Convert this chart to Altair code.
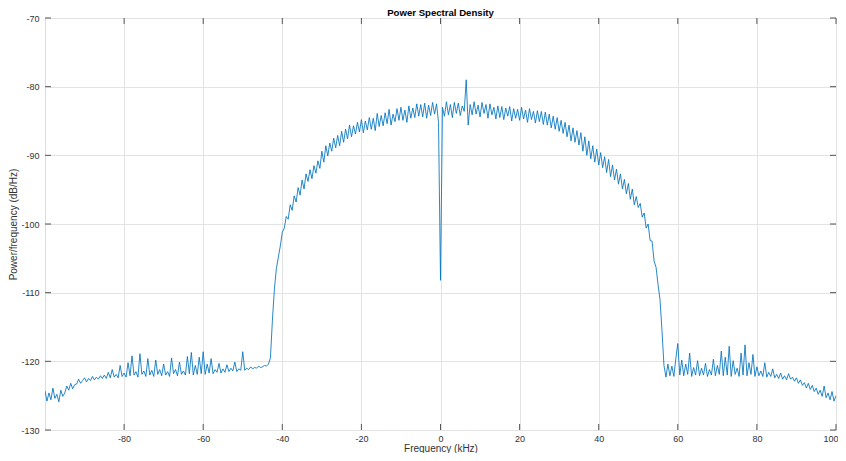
import altair as alt
import pandas as pd

# Power spectral density (dB/Hz), one value every 0.5 kHz from -100 to 100 kHz
power_db = [
    # -100 .. -95.5
    -124.3, -125.8, -124.6, -125.6, -123.9, -125.4, -124.8, -125.9, -124.2, -125.1,
    # -95 .. -90.5
    -124.6, -123.6, -124.2, -123.2, -124.0, -123.4, -123.3, -122.6, -123.2, -122.8,
    # -90 .. -85.5
    -122.4, -123.0, -122.5, -122.8, -122.2, -122.7, -122.3, -122.6, -122.1, -122.5,
    # -85 .. -80.5
    -122.0, -122.5, -121.6, -122.4, -121.2, -122.3, -121.9, -122.4, -120.6, -122.2,
    # -80 .. -75.5
    -121.7, -122.3, -120.2, -122.1, -119.2, -122.0, -121.5, -122.3, -118.9, -121.9,
    # -75 .. -70.5
    -121.4, -122.2, -119.6, -122.0, -121.3, -122.2, -119.8, -121.9, -121.2, -122.1,
    # -70 .. -65.5
    -120.4, -122.0, -121.5, -122.2, -119.5, -121.8, -121.2, -122.1, -120.1, -121.9,
    # -65 .. -60.5
    -121.4, -122.0, -119.3, -121.8, -118.7, -122.0, -120.6, -121.9, -119.4, -121.8,
    # -60 .. -55.5
    -118.6, -121.9, -120.4, -121.7, -119.6, -121.8, -121.2, -121.6, -120.3, -121.7,
    # -55 .. -50.5
    -121.1, -121.6, -120.5, -121.5, -121.0, -121.4, -120.1, -121.5, -121.1, -121.3,
    # -50 .. -45.5
    -118.6, -121.3, -121.0, -121.2, -120.8, -121.1, -120.9, -121.0, -120.7, -120.9,
    # -45 .. -40.5
    -120.8, -120.6, -120.7, -120.4, -119.5, -114.0, -109.5, -106.5, -104.8, -103.2,
    # -40 .. -35.5
    -101.2, -100.6, -98.9, -99.3, -97.2, -98.0, -95.9, -96.8, -94.7, -95.8,
    # -35 .. -30.5
    -93.6, -94.9, -92.7, -93.8, -92.1, -93.4, -91.5, -92.6, -90.8, -91.9,
    # -30 .. -25.5
    -89.4, -91.0, -88.6, -90.1, -88.2, -89.4, -87.5, -88.9, -87.1, -88.6,
    # -25 .. -20.5
    -86.5, -88.1, -86.2, -87.6, -85.6, -87.3, -85.7, -86.9, -85.2, -86.6,
    # -20 .. -15.5
    -84.8, -86.7, -85.0, -86.3, -84.5, -86.2, -84.6, -86.4, -83.9, -85.8,
    # -15 .. -10.5
    -84.2, -85.7, -83.8, -85.4, -83.3, -85.6, -84.0, -85.1, -83.2, -84.9,
    # -10 .. -5.5
    -83.0, -84.9, -83.4, -85.2, -82.8, -84.6, -83.1, -84.5, -82.5, -84.3,
    # -5 .. -0.5
    -82.6, -84.4, -82.4, -84.6, -82.7, -84.2, -82.3, -84.0, -82.5, -85.2,
    # 0 .. 4.5
    -108.2, -83.0, -84.3, -82.2, -84.1, -82.6, -84.5, -82.3, -83.9, -82.4,
    # 5 .. 9.5
    -84.2, -82.8, -83.6, -79.0, -85.6, -82.6, -84.1, -82.2, -84.0, -82.7,
    # 10 .. 14.5
    -84.4, -82.3, -83.9, -82.6, -84.6, -82.5, -84.1, -83.0, -84.7, -82.8,
    # 15 .. 19.5
    -84.5, -82.9, -84.8, -83.1, -84.3, -82.9, -85.0, -83.2, -84.6, -83.3,
    # 20 .. 24.5
    -84.9, -83.0, -84.7, -83.4, -85.2, -83.2, -84.8, -83.6, -85.3, -83.5,
    # 25 .. 29.5
    -85.1, -83.6, -85.5, -83.7, -85.6, -84.0, -86.0, -84.3, -86.2, -84.5,
    # 30 .. 34.5
    -86.5, -84.9, -86.8, -85.2, -87.3, -85.6, -87.9, -86.0, -88.1, -86.4,
    # 35 .. 39.5
    -88.5, -86.7, -89.4, -87.3, -90.0, -87.9, -90.5, -88.6, -91.0, -89.1,
    # 40 .. 44.5
    -91.4, -89.6, -91.8, -90.2, -92.5, -90.6, -93.1, -91.4, -93.6, -92.0,
    # 45 .. 49.5
    -94.2, -92.7, -94.9, -93.5, -95.6, -94.1, -96.4, -94.9, -97.2, -96.0,
    # 50 .. 54.5
    -97.6, -97.0, -99.0, -98.4, -100.6, -100.0, -102.4, -102.5, -105.4, -106.3,
    # 55 .. 59.5
    -108.8, -111.0, -115.5, -120.6, -122.3, -120.4, -122.1, -120.7, -122.2, -119.6,
    # 60 .. 64.5
    -117.4, -122.0, -119.8, -122.1, -120.4, -121.9, -118.8, -122.2, -120.9, -122.0,
    # 65 .. 69.5
    -119.9, -122.1, -121.0, -122.0, -120.3, -122.2, -121.2, -122.0, -119.7, -122.1,
    # 70 .. 74.5
    -120.6, -121.9, -118.5, -122.1, -119.4, -122.0, -117.8, -122.2, -119.9, -121.9,
    # 75 .. 79.5
    -121.0, -122.2, -118.8, -122.0, -117.6, -122.1, -120.2, -121.9, -119.0, -122.2,
    # 80 .. 84.5
    -120.8, -122.1, -121.4, -122.2, -120.2, -122.3, -121.6, -122.2, -121.1, -122.4,
    # 85 .. 89.5
    -121.9, -122.5, -121.7, -122.6, -122.1, -122.7, -121.8, -122.6, -122.3, -122.9,
    # 90 .. 94.5
    -122.4, -123.2, -122.7, -123.5, -123.1, -123.9, -123.2, -124.1, -123.5, -124.4,
    # 95 .. 99.5
    -123.9, -124.8, -124.2, -125.1, -123.6, -125.3, -124.6, -125.6, -124.4, -125.8,
    # 100
    -125.0,
]
freq_start_khz = -100.0
freq_step_khz = 0.5
freq_khz = [freq_start_khz + i * freq_step_khz for i in range(len(power_db))]

x_ticks = [-80, -60, -40, -20, 0, 20, 40, 60, 80, 100]
y_ticks = [-130, -120, -110, -100, -90, -80, -70]

W, H = 791, 412
FONT = "Liberation Sans"
TXT = "#333333"
X_TITLE = "Frequency (kHz)"
Y_TITLE = "Power/frequency (dB/Hz)"

df = pd.DataFrame({"f": freq_khz, "p": power_db})
xt = pd.DataFrame({"f": x_ticks})
yt = pd.DataFrame({"p": y_ticks})

xs = alt.Scale(domain=[-100, 100], nice=False, zero=False)
ys = alt.Scale(domain=[-130, -70], nice=False, zero=False)

x_axis = alt.Axis(values=x_ticks, grid=True, gridColor="#e3e3e3", domain=False,
                  ticks=False, labelPadding=4, titlePadding=0,
                  labelExpr="'' + datum.value", labelFlush=True, labelFlushOffset=2,
                  labelFont=FONT, titleFont=FONT, labelFontSize=9, titleFontSize=10,
                  labelColor=TXT, titleColor=TXT, titleFontWeight="normal")
y_axis = alt.Axis(values=y_ticks, grid=True, gridColor="#e3e3e3", domain=False,
                  ticks=False, labelPadding=6, titlePadding=2,
                  labelExpr="'' + datum.value", labelFlush=False,
                  labelFont=FONT, titleFont=FONT, labelFontSize=9, titleFontSize=10,
                  labelColor=TXT, titleColor=TXT, titleFontWeight="normal")

X = alt.X("f:Q", scale=xs, title=X_TITLE, axis=x_axis)
Y = alt.Y("p:Q", scale=ys, title=Y_TITLE, axis=y_axis)

line = alt.Chart(df).mark_line(color="#0072BD", strokeWidth=0.85, clip=True).encode(x=X, y=Y)

tick_color = "#555555"
bottom_ticks = alt.Chart(xt).mark_rule(color=tick_color, strokeWidth=1).encode(
    x=X, y=alt.value(H), y2=alt.value(H - 6))
top_ticks = alt.Chart(xt).mark_rule(color=tick_color, strokeWidth=1).encode(
    x=X, y=alt.value(0), y2=alt.value(6))
left_ticks = alt.Chart(yt).mark_rule(color=tick_color, strokeWidth=1).encode(
    y=Y, x=alt.value(0), x2=alt.value(6))
right_ticks = alt.Chart(yt).mark_rule(color=tick_color, strokeWidth=1).encode(
    y=Y, x=alt.value(W), x2=alt.value(W - 6))

chart = alt.layer(line, bottom_ticks, top_ticks, left_ticks, right_ticks).properties(
    width=W, height=H,
    title=alt.TitleParams("Power Spectral Density", font=FONT, fontSize=9.6, fontWeight="bold",
                          color="#000000", offset=0, dy=12, anchor="middle", baseline="alphabetic"),
    autosize=alt.AutoSizeParams(type="none"),
    padding={"left": 37, "top": 10, "right": 2, "bottom": 23},
).configure_view(stroke="#555555", strokeWidth=1).configure(background="white")

chart.save("out.html", embed_options={"renderer": "svg", "actions": False})
